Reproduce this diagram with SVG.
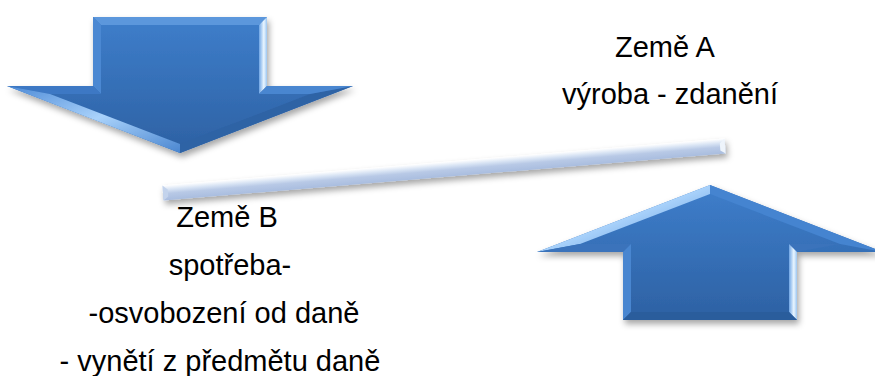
<svg xmlns="http://www.w3.org/2000/svg" width="875" height="376" viewBox="0 0 875 376">
  <style>
    .lbl { font-family: "Liberation Sans", Arial, sans-serif; font-size: 29px; fill: #000; text-anchor: middle; }
  </style>
  <defs>
    <filter id="shadow" x="-10%" y="-10%" width="130%" height="140%">
      <feDropShadow dx="2" dy="4" stdDeviation="3" flood-color="#000" flood-opacity="0.35"/>
    </filter>
    <linearGradient id="blueFill" x1="0" y1="0" x2="0" y2="1">
      <stop offset="0" stop-color="#3e7ecb"/>
      <stop offset="1" stop-color="#2d61a3"/>
    </linearGradient>
    <linearGradient id="barFill" x1="0" y1="0" x2="0" y2="1">
      <stop offset="0" stop-color="#ffffff"/>
      <stop offset="0.3" stop-color="#d6e2f3"/>
      <stop offset="0.55" stop-color="#b8c9e6"/>
      <stop offset="1" stop-color="#a9bddf"/>
    </linearGradient>
    <linearGradient id="hiLeft" x1="0" y1="0" x2="1" y2="1">
      <stop offset="0" stop-color="#4d8ad6"/>
      <stop offset="0.5" stop-color="#a9d2fb"/>
      <stop offset="1" stop-color="#4a86d0"/>
    </linearGradient>
    <linearGradient id="edgeR" x1="0" y1="0" x2="1" y2="0">
      <stop offset="0" stop-color="#6fa6e6"/>
      <stop offset="0.6" stop-color="#eaf6ff"/>
      <stop offset="1" stop-color="#9cc6f2"/>
    </linearGradient>
  </defs>

  <!-- Down arrow (top-left) -->
  <g id="arrow-down" filter="url(#shadow)">
    <polygon points="93,17 267,17 267,86 353,86 180,153 7,86 93,86" fill="url(#blueFill)"/>
    <polygon points="93,17 267,17 259,25 101,25" fill="#5b97dc"/>
    <polygon points="267,17 267,86 259,94 259,25" fill="url(#edgeR)"/>
    <polygon points="93,17 101,25 101,94 93,86" fill="#4c88d2"/>
    <polygon points="7,86 93,86 101,94 50,94" fill="#3c78c4"/>
    <polygon points="7,86 50,94 180,144 180,153" fill="url(#hiLeft)"/>
    <polygon points="353,86 310,94 180,144 180,153" fill="#2f63a5"/>
    <polygon points="267,86 353,86 310,94 259,94" fill="#4a86d0"/>
  </g>

  <!-- Up arrow (bottom-right) -->
  <g id="arrow-up" filter="url(#shadow)">
    <polygon points="710,185 883,252 797,252 797,320 623,320 623,252 537,252" fill="url(#blueFill)"/>
    <polygon points="537,252 710,185 710,194 580,244" fill="url(#hiLeft)"/>
    <polygon points="710,185 883,252 840,244 710,194" fill="#4584d0"/>
    <polygon points="537,252 580,244 631,244 623,252" fill="#3a73bb"/>
    <polygon points="797,252 840,244 789,244" fill="#3a73bb"/>
    <polygon points="623,252 631,244 631,312 623,320" fill="#4a86d0"/>
    <polygon points="797,252 797,320 789,312 789,244" fill="url(#edgeR)"/>
    <polygon points="623,320 797,320 789,312 631,312" fill="#2c5d9c"/>
  </g>

  <!-- Lever bar -->
  <g id="lever" filter="url(#shadow)">
    <g transform="translate(163,193) rotate(-4.78)">
      <rect x="0" y="-7.5" width="564" height="15" fill="url(#barFill)"/>
      <polygon points="0,-7.5 5,-3 5,4 0,7.5" fill="#c3d3ec"/>
      <polygon points="564,-7.5 564,7.5 559,4 559,-3" fill="#eef4fb"/>
    </g>
  </g>

  <!-- Labels -->
  <g id="label-a">
    <text class="lbl" x="665" y="57">Země A</text>
    <text class="lbl" x="670" y="104">výroba - zdanění</text>
  </g>
  <g id="label-b">
    <text class="lbl" x="227" y="227">Země B</text>
    <text class="lbl" x="230" y="275">spotřeba-</text>
    <text class="lbl" x="224" y="323">-osvobození od daně</text>
    <text class="lbl" x="220" y="371">- vynětí z předmětu daně</text>
  </g>
</svg>
